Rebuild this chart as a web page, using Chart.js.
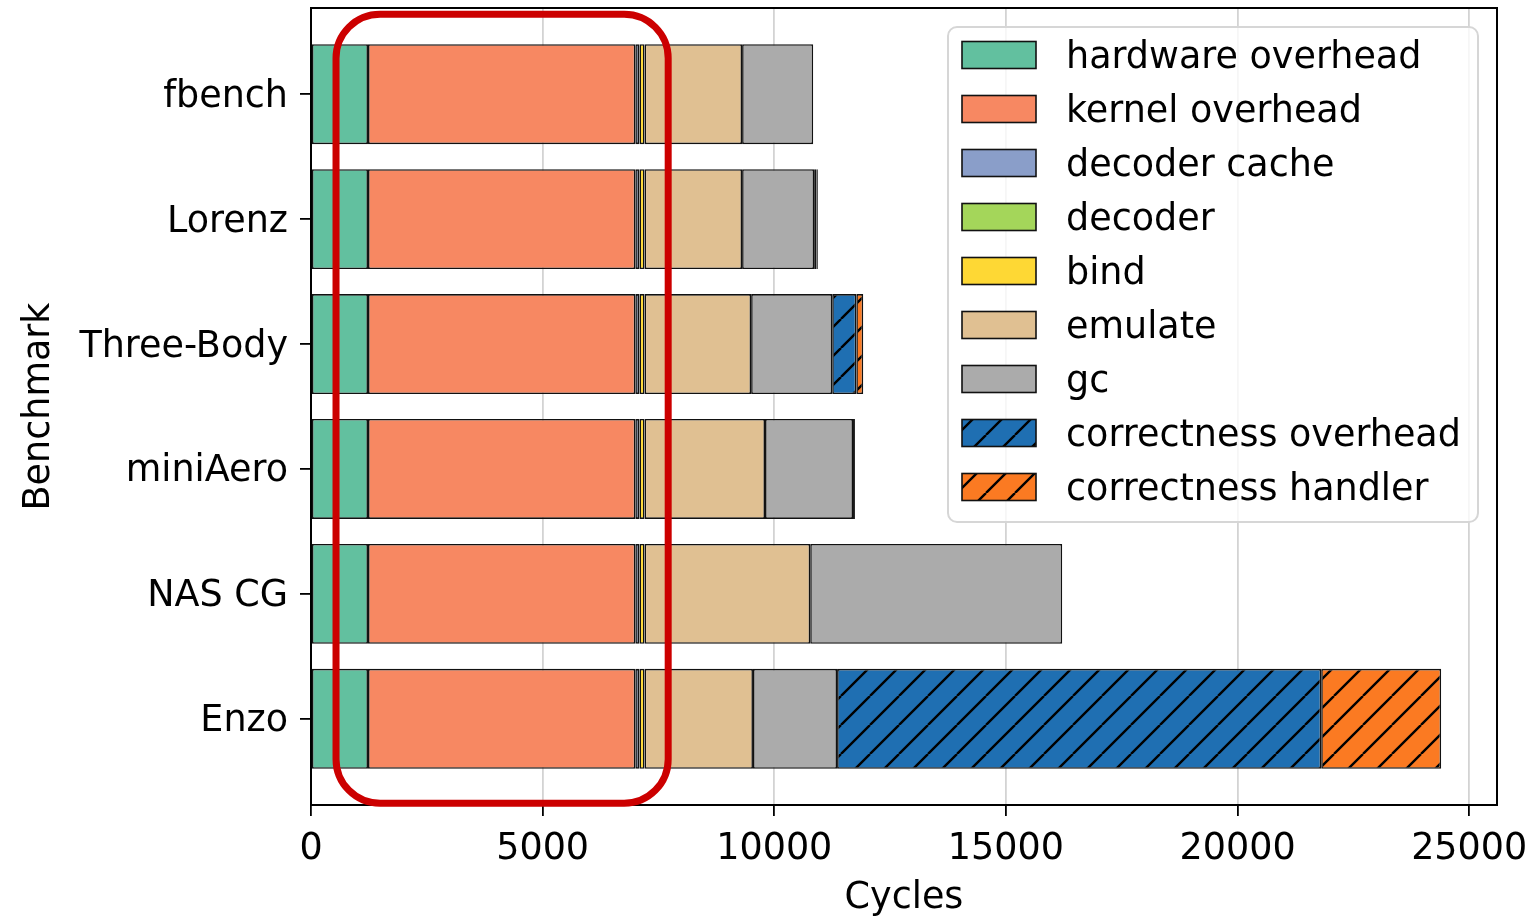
<!DOCTYPE html>
<html>
<head>
<meta charset="utf-8">
<script src="https://cdn.jsdelivr.net/npm/chart.js@4.4.1/dist/chart.umd.min.js"></script>
<style>
  html, body { margin: 0; padding: 0; background: #fff; }
  #wrap { width: 1535px; height: 920px; position: relative; }
</style>
</head>
<body>
<div id="wrap"><canvas id="chart"></canvas></div>
<script>
const benchmarks = ["fbench", "Lorenz", "Three-Body", "miniAero", "NAS CG", "Enzo"];
const xTicks = [0, 5000, 10000, 15000, 20000, 25000];

const hardwareOverhead = [1230, 1230, 1230, 1230, 1230, 1230];
const kernelOverhead = [5770, 5770, 5770, 5770, 5770, 5770];
const decoderCache = [80, 80, 80, 80, 80, 80];
const decoder = [10, 10, 10, 10, 10, 10];
const bind = [110, 110, 110, 110, 110, 110];
const emulate = [2105, 2105, 2300, 2600, 3575, 2340];
const gc = [1535, 1555, 1750, 1900, 5440, 1815];
const correctnessOverhead = [0, 55, 520, 40, 0, 10450];
const correctnessHandler = [0, 25, 150, 0, 0, 2590];

const FONT = { family: "'DejaVu Sans', sans-serif", size: 36.5 };

function hatch(color) {
  const s = 29;
  const c = document.createElement("canvas");
  c.width = s;
  c.height = s;
  const g = c.getContext("2d");
  g.fillStyle = color;
  g.fillRect(0, 0, s, s);
  g.strokeStyle = "#000";
  g.lineWidth = 2.4;
  g.beginPath();
  for (const k of [-1, 0, 1]) {
    g.moveTo(k * s, s);
    g.lineTo(k * s + s, 0);
  }
  g.stroke();
  return g.createPattern(c, "repeat");
}

const series = [
  { label: "hardware overhead", values: hardwareOverhead, color: "#62c09f" },
  { label: "kernel overhead", values: kernelOverhead, color: "#f78862" },
  { label: "decoder cache", values: decoderCache, color: "#8a9ec9" },
  { label: "decoder", values: decoder, color: "#a4d65a" },
  { label: "bind", values: bind, color: "#fed834" },
  { label: "emulate", values: emulate, color: "#e0c092" },
  { label: "gc", values: gc, color: "#ababab" },
  { label: "correctness overhead", values: correctnessOverhead, color: hatch("#1f6fb2") },
  { label: "correctness handler", values: correctnessHandler, color: hatch("#fb7a22") },
];

const datasets = series.map((s) => ({
  label: s.label,
  data: s.values.map((v, i) => ({ x: v > 0 ? v : null, y: i })),
  backgroundColor: s.color,
  borderColor: "#111",
  borderWidth: 1.6,
  borderSkipped: false,
  categoryPercentage: 0.8,
  barPercentage: 1,
}));

// frame round the plot, legend inside it, red highlight box
const overlay = {
  id: "overlay",
  afterDatasetsDraw(chart) {
    const { ctx, chartArea: a, scales } = chart;
    ctx.save();
    ctx.strokeStyle = "#000";
    ctx.lineWidth = 2;
    ctx.strokeRect(a.left, a.top, a.right - a.left, a.bottom - a.top);

    // legend
    const lw = 530, lh = 495;
    const lx = a.right - 19 - lw, ly = a.top + 19;
    ctx.beginPath();
    ctx.roundRect(lx, ly, lw, lh, 9);
    ctx.fillStyle = "rgba(255,255,255,0.8)";
    ctx.fill();
    ctx.strokeStyle = "#d6d6d6";
    ctx.lineWidth = 2;
    ctx.stroke();
    ctx.font = `${FONT.size}px ${FONT.family}`;
    ctx.textBaseline = "middle";
    series.forEach((s, i) => {
      const cy = ly + 28 + i * 54;
      ctx.fillStyle = s.color;
      ctx.fillRect(lx + 14, cy - 13.5, 74, 27);
      ctx.strokeStyle = "#111";
      ctx.lineWidth = 1.6;
      ctx.strokeRect(lx + 14, cy - 13.5, 74, 27);
      ctx.fillStyle = "#000";
      ctx.fillText(s.label, lx + 118, cy + 4);
    });

    // red highlight
    const x0 = scales.x.getPixelForValue(540);
    const x1 = scales.x.getPixelForValue(7710);
    const y0 = scales.y.getPixelForValue(-0.64);
    const y1 = scales.y.getPixelForValue(5.675);
    ctx.beginPath();
    ctx.roundRect(x0, y0, x1 - x0, y1 - y0, 44);
    ctx.strokeStyle = "#cc0000";
    ctx.lineWidth = 7;
    ctx.stroke();
    ctx.restore();
  },
};

new Chart(document.getElementById("chart"), {
  type: "bar",
  data: { datasets },
  options: {
    indexAxis: "y",
    responsive: true,
    maintainAspectRatio: false,
    animation: false,
    layout: { padding: { top: 8, right: 38, left: 0, bottom: 0 } },
    plugins: { legend: { display: false }, tooltip: { enabled: false } },
    scales: {
      x: {
        type: "linear",
        min: 0,
        max: 25600,
        stacked: true,
        afterBuildTicks(s) {
          s.ticks = xTicks.map((v) => ({ value: v }));
        },
        ticks: { font: FONT, color: "#000", padding: 12, maxRotation: 0, autoSkip: false, callback: (v) => String(v) },
        grid: { color: "#d3d3d3", tickColor: "#000", lineWidth: 1.8, tickLength: 11 },
        border: { display: false },
        title: { display: true, text: "Cycles", font: FONT, color: "#000", padding: { top: 0, bottom: 0 } },
        afterFit(s) {
          s.height = 115;
          s.paddingLeft = 0;
          s.paddingRight = 0;
        },
      },
      y: {
        type: "linear",
        min: -0.69,
        max: 5.69,
        reverse: true,
        stacked: true,
        offset: false,
        afterBuildTicks(s) {
          s.ticks = benchmarks.map((_, i) => ({ value: i }));
        },
        ticks: { font: FONT, color: "#000", padding: 12, labelOffset: 3, autoSkip: false, callback: (v) => benchmarks[v] },
        grid: { offset: false, drawOnChartArea: false, tickColor: "#000", lineWidth: 1.8, tickLength: 11 },
        border: { display: false },
        title: { display: true, text: "Benchmark", font: FONT, color: "#000", padding: { top: 18, bottom: 0 } },
        afterFit(s) {
          s.width = 311;
          s.paddingTop = 0;
          s.paddingBottom = 0;
        },
      },
    },
  },
  plugins: [overlay],
});
</script>
</body>
</html>
